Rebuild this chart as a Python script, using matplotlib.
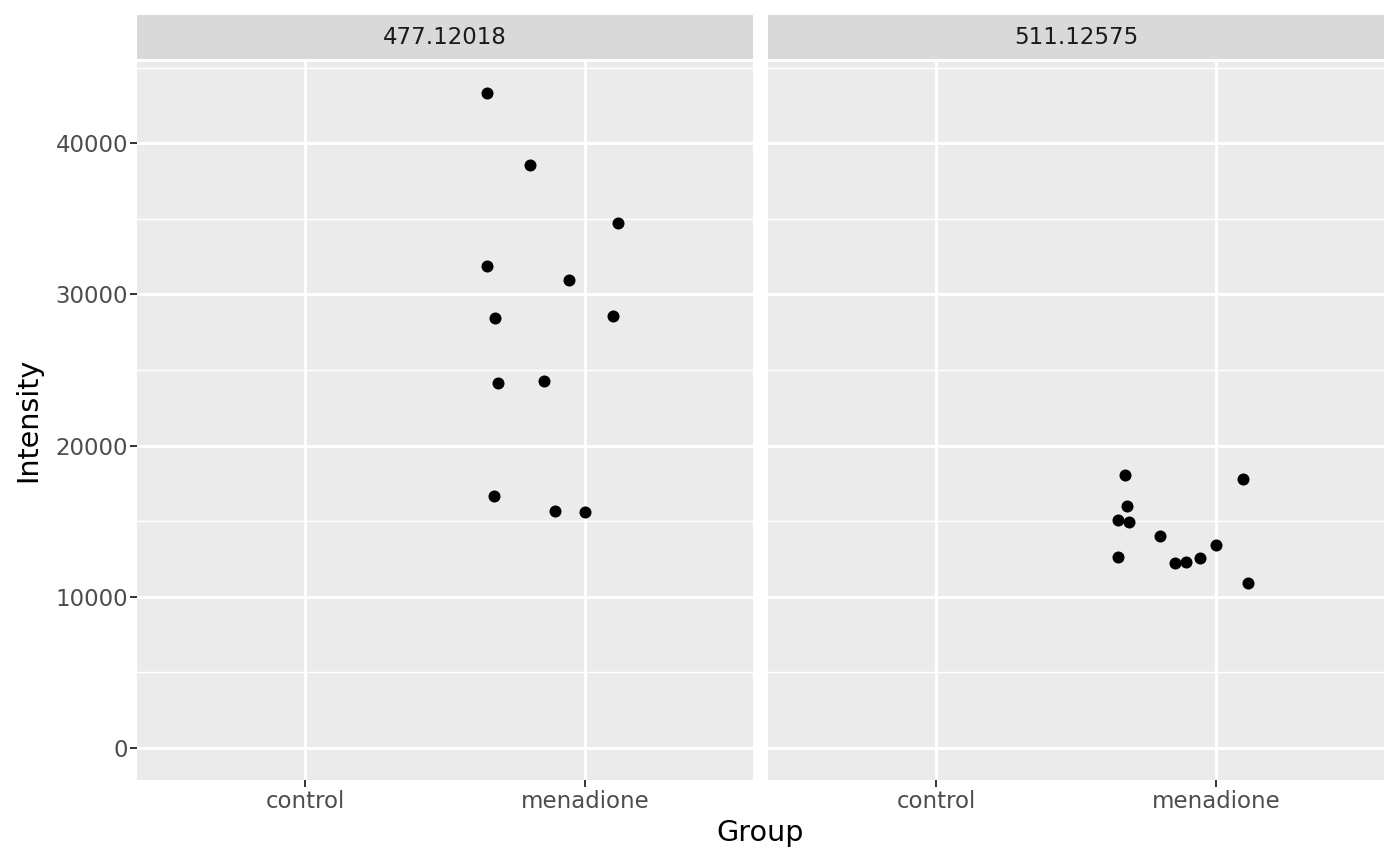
import matplotlib.pyplot as plt
import numpy as np

groups = ["control", "menadione"]
panels = ["477.12018", "511.12575"]

# jittered x positions (1 = control, 2 = menadione) and intensities
x_477 = [1.65, 1.804, 2.118, 1.65, 1.943, 1.679, 2.10, 1.689, 1.854, 1.675, 1.893, 2.0]
y_477 = [43320, 38560, 34720, 31880, 30950, 28440, 28570, 24140, 24270, 16670, 15670, 15610]
x_511 = [1.676, 2.096, 1.683, 1.651, 1.69, 1.80, 2.0, 1.651, 1.854, 1.893, 1.943, 2.114]
y_511 = [18060, 17790, 16010, 15080, 14950, 14020, 13430, 12630, 12240, 12300, 12570, 10910]

yticks = [0, 10000, 20000, 30000, 40000]
yminor = [5000, 15000, 25000, 35000, 45000]

fig = plt.figure(figsize=(14, 8.65), dpi=100)
fig.patch.set_facecolor("white")

W, H = 1400, 865
bottom = 1 - 780 / H
height = (780 - 62) / H
strip_h = 44 / H
lefts = [137 / W, 768 / W]
width = 616 / W

data = [(x_477, y_477), (x_511, y_511)]
for i, (name, (xs, ys)) in enumerate(zip(panels, data)):
    ax = fig.add_axes([lefts[i], bottom, width, height])
    ax.set_facecolor("#EBEBEB")
    ax.set_xlim(0.4, 2.6)
    ax.set_ylim(-2116, 45370)
    for yv in yminor:
        ax.axhline(yv, color="white", lw=1.05, zorder=0)
    for yv in yticks:
        ax.axhline(yv, color="white", lw=2.1, zorder=0)
    for xv in [1, 2]:
        ax.axvline(xv, color="white", lw=2.1, zorder=0)
    ax.scatter(xs, ys, s=75, color="black", zorder=3, linewidths=0)
    for s in ax.spines.values():
        s.set_visible(False)
    ax.set_xticks([1, 2])
    ax.set_xticklabels(groups)
    ax.tick_params(axis="both", colors="#333333", labelcolor="#4D4D4D",
                   labelsize=16.5, length=5, width=1.4)
    ax.tick_params(axis="x", pad=2.5)
    ax.tick_params(axis="y", pad=1.5)
    if i == 0:
        ax.set_yticks(yticks)
        ax.set_yticklabels([str(v) for v in yticks])
    else:
        ax.set_yticks([])
    # facet strip
    sax = fig.add_axes([lefts[i], 1 - 59 / H, width, strip_h])
    sax.set_facecolor("#D9D9D9")
    sax.set_xticks([])
    sax.set_yticks([])
    for s in sax.spines.values():
        s.set_visible(False)
    sax.text(0.5, 0.5, name, ha="center", va="center", fontsize=16.5,
             color="#1A1A1A", transform=sax.transAxes)

fig.text((137 + 1384) / 2 / W, 1 - 833 / H, "Group", ha="center", va="center",
         fontsize=20.6, color="black")
fig.text(28 / W, 1 - 420 / H, "Intensity", ha="center", va="center",
         rotation=90, fontsize=20.6, color="black")

plt.savefig("out.png", dpi=100)
